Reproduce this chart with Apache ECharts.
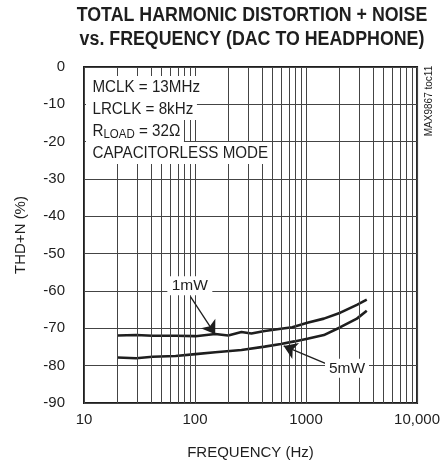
<!DOCTYPE html>
<html>
<head>
<meta charset="utf-8">
<script src="https://cdn.jsdelivr.net/npm/echarts@6/dist/echarts.min.js"></script>
<style>
html,body{margin:0;padding:0;background:#fff;}
#chart{width:443px;height:469px;}
</style>
</head>
<body>
<div id="chart"></div>
<script>
// ---- data ----
const freq1mW = [20, 29.5, 41.4, 66.9, 101, 152, 199, 262, 322, 424, 594, 752, 1028, 1448, 2037, 2870, 3524];
const thd1mW  = [-71.9, -71.8, -72.0, -72.0, -72.1, -71.5, -71.9, -71.0, -71.4, -70.7, -70.1, -69.7, -68.5, -67.4, -65.8, -63.7, -62.3];
const freq5mW = [20, 29.5, 41.4, 66.9, 101, 152, 262, 424, 594, 786, 1028, 1448, 2037, 2870, 3524];
const thd5mW  = [-77.8, -78.0, -77.6, -77.4, -76.9, -76.4, -75.8, -74.9, -74.2, -73.5, -72.8, -71.8, -69.7, -67.4, -65.3];
const xTickValues = [10, 100, 1000, 10000];
const xTickLabels = ['10', '100', '1000', '10,000'];
const minorFreqs = [20,30,40,50,60,70,80,90,200,300,400,500,600,700,800,900,2000,3000,4000,5000,6000,7000,8000,9000];
const titleLines = ['TOTAL HARMONIC DISTORTION + NOISE', 'vs. FREQUENCY (DAC TO HEADPHONE)'];
const conditions = ['MCLK = 13MHz', 'LRCLK = 8kHz', '{a|R}{b|LOAD}{a| = 32Ω}', 'CAPACITORLESS MODE'];

const FONT = '"Liberation Sans", Arial, Helvetica, sans-serif';
const INK = '#1e1e1e';
const GRIDC = '#444';

const chart = echarts.init(document.getElementById('chart'), null, {renderer: 'canvas'});

function condText(i, txt, cy) {
  const isRich = txt.indexOf('{') >= 0;
  return {
    type: 'text', x: 86, y: cy, scaleX: 0.92, scaleY: 1, z: 100, silent: true,
    style: {
      text: txt, fontFamily: FONT, fontSize: 16.5, fill: INK,
      align: 'left', verticalAlign: 'middle', textAlign: 'left', textVerticalAlign: 'middle',
      backgroundColor: '#fff', padding: isRich ? [1, 4, 1, 7] : [3, 4, 3, 7], lineHeight: 16,
      rich: {
        a: {fontFamily: FONT, fontSize: 16.5, fill: INK, color: INK, lineHeight: 20},
        b: {fontFamily: FONT, fontSize: 12.5, fill: INK, color: INK, lineHeight: 10, verticalAlign: 'bottom'}
      }
    }
  };
}

const graphics = [
  {type: 'text', x: 252, y: 15.5, scaleX: 0.89, z: 100, silent: true,
   style: {text: titleLines[0], fontFamily: FONT, fontSize: 20, fontWeight: 'bold', fill: INK,
           align: 'center', verticalAlign: 'middle', textAlign: 'center', textVerticalAlign: 'middle'}},
  {type: 'text', x: 252, y: 39.5, scaleX: 0.89, z: 100, silent: true,
   style: {text: titleLines[1], fontFamily: FONT, fontSize: 20, fontWeight: 'bold', fill: INK,
           align: 'center', verticalAlign: 'middle', textAlign: 'center', textVerticalAlign: 'middle'}},
  {type: 'text', x: 429, y: 101, rotation: Math.PI / 2, z: 100, silent: true,
   style: {text: 'MAX9867 toc11', fontFamily: FONT, fontSize: 10, fill: INK,
           align: 'center', verticalAlign: 'middle', textAlign: 'center', textVerticalAlign: 'middle'}}
];
const condY = [87, 109, 131, 153];
conditions.forEach((t, i) => graphics.push(condText(i, t, condY[i])));

const option = {
  animation: false,
  backgroundColor: '#fff',
  grid: {left: 84, right: 22, top: 67, bottom: 66, show: true, borderColor: INK, borderWidth: 2, containLabel: false},
  xAxis: {
    type: 'log', logBase: 10, min: 10, max: 10000,
    name: 'FREQUENCY (Hz)', nameLocation: 'middle', nameGap: 42,
    nameTextStyle: {fontFamily: FONT, fontSize: 15, color: INK},
    axisLine: {show: false}, axisTick: {show: false},
    axisLabel: {fontFamily: FONT, fontSize: 15, color: INK, margin: 9,
      formatter: v => { const i = xTickValues.findIndex(t => Math.abs(t - v) / t < 1e-6); return i >= 0 ? xTickLabels[i] : ''; }},
    splitLine: {show: true, lineStyle: {color: GRIDC, width: 1}},
    minorTick: {show: false}, minorSplitLine: {show: false}
  },
  yAxis: {
    type: 'value', min: -90, max: 0, interval: 10,
    name: 'THD+N (%)', nameLocation: 'middle', nameGap: 56, nameRotate: 90,
    nameTextStyle: {fontFamily: FONT, fontSize: 15, color: INK},
    axisLine: {show: false}, axisTick: {show: false},
    axisLabel: {fontFamily: FONT, fontSize: 15, color: INK, margin: 19},
    splitLine: {show: true, lineStyle: {color: GRIDC, width: 1}}
  },
  series: [
    {
      name: 'minor', type: 'line', data: [], silent: true, z: 1,
      markLine: {
        silent: true, symbol: ['none', 'none'], animation: false,
        label: {show: false},
        lineStyle: {color: GRIDC, width: 1, type: 'solid'},
        emphasis: {disabled: true},
        data: minorFreqs.map(f => ({xAxis: f}))
      }
    },
    {
      name: '1mW', type: 'line', z: 3, showSymbol: false, symbol: 'none', smooth: false,
      lineStyle: {color: INK, width: 2.6},
      data: freq1mW.map((f, i) => [f, thd1mW[i]]),
      markLine: {
        silent: true, symbol: ['none', 'arrow'], symbolSize: 13, animation: false,
        label: {show: false}, emphasis: {disabled: true},
        lineStyle: {color: INK, width: 1.3, type: 'solid'},
        data: [[{coord: [91, -61.5]}, {coord: [152, -71.6]}]]
      },
      markPoint: {
        silent: true, symbol: 'rect', symbolSize: [45, 19], animation: false,
        itemStyle: {color: '#fff'},
        label: {show: true, position: 'inside', formatter: p => p.name, fontFamily: FONT, fontSize: 15.5, color: INK},
        data: [{name: '1mW', coord: [89.8, -58.6]}]
      }
    },
    {
      name: '5mW', type: 'line', z: 3, showSymbol: false, symbol: 'none', smooth: false,
      lineStyle: {color: INK, width: 2.6},
      data: freq5mW.map((f, i) => [f, thd5mW[i]]),
      markLine: {
        silent: true, symbol: ['none', 'arrow'], symbolSize: 13, animation: false,
        label: {show: false}, emphasis: {disabled: true},
        lineStyle: {color: INK, width: 1.3, type: 'solid'},
        data: [[{coord: [1549, -79.6]}, {coord: [629, -74.7]}]]
      },
      markPoint: {
        silent: true, symbol: 'rect', symbolSize: [44, 19], animation: false,
        itemStyle: {color: '#fff'},
        label: {show: true, position: 'inside', formatter: p => p.name, fontFamily: FONT, fontSize: 15.5, color: INK},
        data: [{name: '5mW', coord: [2339, -80.7]}]
      }
    }
  ],
  graphic: {elements: graphics}
};
chart.setOption(option);
</script>
</body>
</html>
